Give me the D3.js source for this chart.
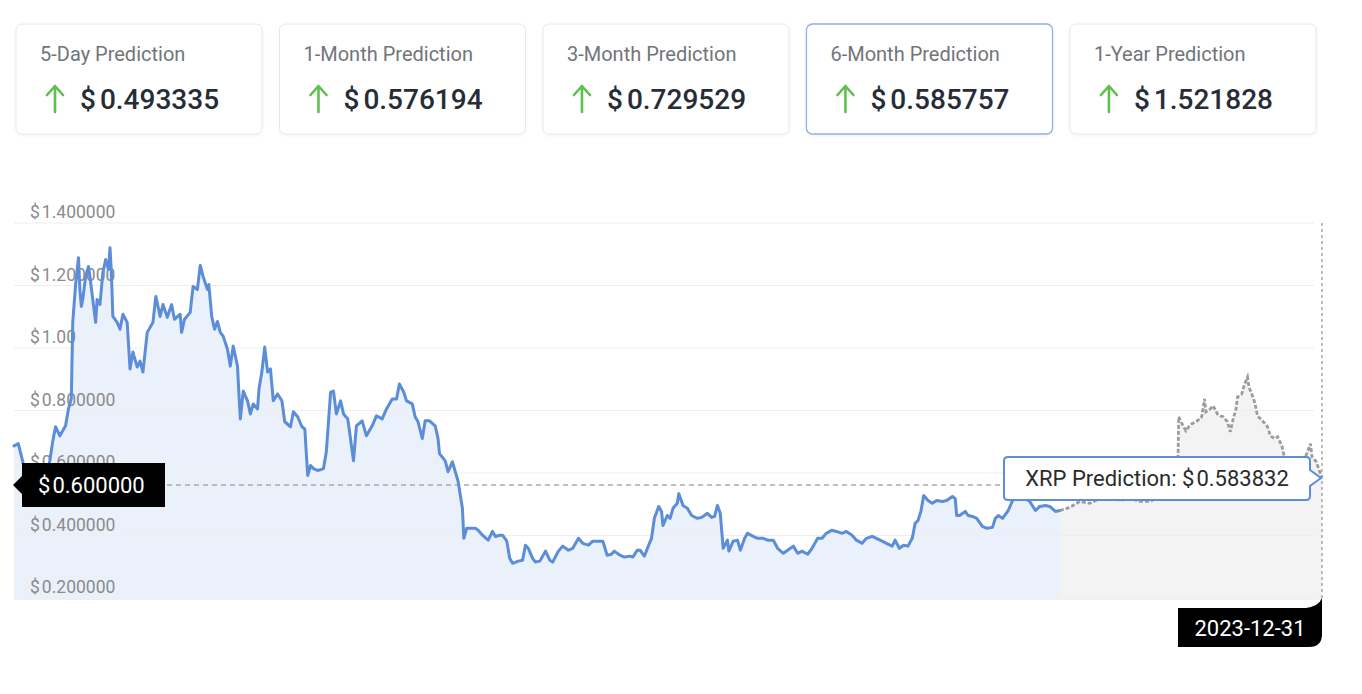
<!DOCTYPE html>
<html>
<head>
<meta charset="utf-8">
<script src="https://cdn.jsdelivr.net/npm/d3@7"></script>
<style>
  html, body { margin: 0; padding: 0; background: #ffffff; }
  svg { display: block; font-family: Roboto, "Noto Sans", Arial, sans-serif; }
</style>
</head>
<body>
<svg id="chart" width="1362" height="694"></svg>
<script>
// ---------------- data ----------------
const cardLabels = ["5-Day Prediction", "1-Month Prediction", "3-Month Prediction", "6-Month Prediction", "1-Year Prediction"];
const cardValues = ["0.493335", "0.576194", "0.729529", "0.585757", "1.521828"];
const activeCard = "6-Month Prediction";

const yTicks = [0.2, 0.4, 0.6, 0.8, 1.0, 1.2, 1.4];
const yTickLabels = ["0.200000", "0.400000", "0.600000", "0.800000", "1.00", "1.200000", "1.400000"];

const startDate = "2021-07-01";
const endDate = "2023-12-31";

// days since startDate
const histDay = [0,3,6,9,13,18,22,25,27,29,32,36,38,40,41,43,45,46,47,48,50,52,53,55,57,58,60,62,64,66,67,68,69,72,74,76,79,80,81,83,86,88,90,93,95,97,99,102,104,107,110,112,116,117,119,123,125,128,130,132,135,136,138,140,142,144,146,149,151,153,156,157,158,160,163,165,167,170,171,173,175,177,179,181,184,187,189,193,195,198,201,203,205,207,209,212,216,218,221,223,225,228,230,233,237,239,243,246,250,253,257,260,264,267,269,272,274,278,280,282,285,287,290,294,296,297,301,303,306,310,313,314,316,318,322,324,327,331,334,336,339,341,344,346,348,352,355,357,359,362,364,367,371,374,376,380,383,387,390,394,397,401,404,408,411,414,417,419,423,426,430,432,435,437,440,443,445,447,450,452,453,456,458,460,463,464,467,470,473,477,480,484,487,489,491,493,495,498,499,502,505,507,510,512,516,519,523,526,530,533,537,540,544,547,550,554,557,561,564,567,571,574,578,581,585,588,592,595,599,602,606,609,613,615,618,621,624,627,629,631,633,635,638,641,644,648,651,655,657,658,660,664,666,669,672,676,679,683,685,687,690,694,697,702,706,709,713,716,720,723,727,730];
const histPrice = [0.687,0.694,0.639,0.566,0.550,0.534,0.566,0.639,0.700,0.748,0.719,0.751,0.805,0.837,1.082,1.203,1.289,1.187,1.133,1.155,1.229,1.261,1.229,1.155,1.082,1.155,1.139,1.241,1.283,1.251,1.321,1.241,1.101,1.082,1.060,1.108,1.082,1.006,0.933,0.987,0.939,0.958,0.923,1.050,1.066,1.082,1.165,1.101,1.139,1.098,1.139,1.092,1.108,1.050,1.092,1.114,1.197,1.187,1.264,1.229,1.187,1.203,1.101,1.060,1.085,1.050,1.038,0.996,0.942,1.006,0.942,0.853,0.773,0.862,0.831,0.789,0.821,0.805,0.869,0.923,1.003,0.923,0.933,0.831,0.853,0.831,0.764,0.748,0.796,0.780,0.748,0.741,0.592,0.624,0.614,0.608,0.614,0.668,0.859,0.862,0.789,0.831,0.789,0.773,0.639,0.751,0.767,0.719,0.751,0.783,0.773,0.805,0.837,0.837,0.885,0.859,0.831,0.821,0.780,0.764,0.710,0.767,0.767,0.751,0.710,0.662,0.639,0.604,0.636,0.573,0.487,0.391,0.423,0.423,0.423,0.417,0.401,0.385,0.413,0.397,0.401,0.401,0.382,0.327,0.311,0.318,0.321,0.369,0.359,0.327,0.315,0.318,0.350,0.321,0.315,0.350,0.366,0.353,0.359,0.391,0.375,0.369,0.382,0.382,0.382,0.337,0.340,0.350,0.337,0.331,0.334,0.331,0.353,0.353,0.334,0.369,0.391,0.455,0.493,0.477,0.432,0.464,0.455,0.487,0.503,0.534,0.496,0.487,0.464,0.455,0.458,0.471,0.458,0.461,0.496,0.471,0.359,0.385,0.350,0.382,0.385,0.353,0.391,0.407,0.397,0.391,0.391,0.385,0.385,0.359,0.343,0.353,0.366,0.343,0.350,0.340,0.359,0.391,0.391,0.407,0.417,0.413,0.407,0.413,0.401,0.385,0.375,0.391,0.397,0.391,0.382,0.375,0.366,0.385,0.359,0.369,0.366,0.391,0.439,0.448,0.477,0.528,0.512,0.503,0.512,0.509,0.512,0.525,0.518,0.464,0.464,0.477,0.464,0.461,0.455,0.429,0.423,0.426,0.455,0.464,0.455,0.480,0.512,0.525,0.518,0.509,0.480,0.493,0.496,0.493,0.477,0.480];

const predDay = [730,735,738,744,751,758,765,772,779,786,793,800,807,812,813,816,818,820,822,826,829,831,832,835,837,840,842,844,847,849,851,853,854,857,859,861,862,864,866,868,872,875,877,880,882,885,887,890,894,898,901,905,906,909,913];
const predPrice = [0.480,0.487,0.493,0.509,0.503,0.518,0.525,0.512,0.518,0.509,0.509,0.525,0.534,0.525,0.780,0.751,0.735,0.748,0.757,0.767,0.780,0.837,0.796,0.805,0.815,0.789,0.783,0.780,0.764,0.732,0.773,0.805,0.843,0.853,0.885,0.907,0.875,0.853,0.827,0.783,0.764,0.748,0.719,0.710,0.716,0.687,0.646,0.630,0.620,0.630,0.646,0.694,0.652,0.636,0.583832];

const cursorPrice = 0.562;
const tooltipLabel = "XRP Prediction: ";
const tooltipValue = "0.583832";
const cursorLabel = "0.600000";
const cursorDate = "2023-12-31";

// ---------------- chart ----------------
const svg = d3.select("#chart");
const parse = d3.utcParse("%Y-%m-%d");
const t0 = parse(startDate), t1 = parse(endDate);
const toDate = d => d3.utcDay.offset(t0, d);

const plot = { left: 14, right: 1322, top: 223, bottom: 600 };
const x = d3.scaleUtc().domain([t0, t1]).range([plot.left, plot.right]);
const y = d3.scaleLinear().domain([0.2, 1.4]).range([598, 223]);

const hist = histDay.map((d, i) => ({ date: toDate(d), v: histPrice[i] }));
const pred = predDay.map((d, i) => ({ date: toDate(d), v: predPrice[i] }));

// ---- cards ----
const cardScale = d3.scaleBand().domain(cardLabels).range([16, 1316]).paddingInner(0.066);
const defs = svg.append("defs");
const f = defs.append("filter").attr("id", "shadow").attr("x", "-5%").attr("y", "-10%").attr("width", "110%").attr("height", "130%");
f.append("feDropShadow").attr("dx", 0).attr("dy", 1).attr("stdDeviation", 1.5).attr("flood-color", "#000").attr("flood-opacity", 0.06);

const cards = svg.append("g").selectAll("g").data(cardLabels).join("g")
  .attr("transform", d => `translate(${cardScale(d)},24)`);
cards.append("rect")
  .attr("width", cardScale.bandwidth()).attr("height", 110).attr("rx", 6)
  .attr("fill", "#fff")
  .attr("stroke", d => d === activeCard ? "#8fb1e3" : "#e7e8ea")
  .attr("stroke-width", d => d === activeCard ? 1.3 : 1)
  .attr("filter", "url(#shadow)");
cards.append("text").attr("x", 24).attr("y", 37)
  .attr("font-size", 20).attr("fill", "#71757a").text(d => d);
cards.append("path")
  .attr("d", "M39,88 L39,62 M31,71 L39,62 L47,71")
  .attr("fill", "none").attr("stroke", "#5fbf4f").attr("stroke-width", 2.6)
  .attr("stroke-linecap", "round").attr("stroke-linejoin", "round");
const valText = cards.append("text").attr("x", 64).attr("y", 85)
  .attr("font-size", 28).attr("font-weight", 500).attr("fill", "#262d36");
valText.append("tspan").text("$");
valText.append("tspan").attr("dx", 4).text((d, i) => cardValues[i]);

// ---- chart area ----
const g = svg.append("g");

// fills
g.append("path").datum(hist)
  .attr("fill", "#ebf1fa")
  .attr("d", d3.area().x(d => x(d.date)).y0(plot.bottom).y1(d => y(d.v)));
g.append("path").datum(pred)
  .attr("fill", "#f3f3f3")
  .attr("d", d3.area().x(d => x(d.date)).y0(plot.bottom).y1(d => y(d.v)));

// grid
g.append("g").selectAll("line").data(yTicks).join("line")
  .attr("x1", plot.left).attr("x2", 1314)
  .attr("y1", d => y(d)).attr("y2", d => y(d))
  .attr("stroke", "#eeeeee").attr("stroke-width", 1);

// y labels
const yl = g.append("g").selectAll("text").data(yTicks).join("text")
  .attr("x", 30).attr("y", d => y(d) - 5)
  .attr("font-size", 17.5).attr("fill", "#8b8b8b");
yl.append("tspan").text("$");
yl.append("tspan").attr("dx", 2).text((d, i) => yTickLabels[i]);

// right vertical dashed cursor line
g.append("line")
  .attr("x1", x(t1)).attr("x2", x(t1)).attr("y1", plot.top).attr("y2", plot.bottom)
  .attr("stroke", "#a8a8a8").attr("stroke-width", 1.5).attr("stroke-dasharray", "3,3");

// horizontal dashed cursor line
g.append("line")
  .attr("x1", plot.left).attr("x2", 1003).attr("y1", y(cursorPrice)).attr("y2", y(cursorPrice))
  .attr("stroke", "#ababab").attr("stroke-width", 1.5).attr("stroke-dasharray", "5,4");

// lines
g.append("path").datum(hist)
  .attr("fill", "none").attr("stroke", "#5b8dd8").attr("stroke-width", 3)
  .attr("stroke-linejoin", "round").attr("stroke-linecap", "round")
  .attr("d", d3.line().x(d => x(d.date)).y(d => y(d.v)));
g.append("path").datum(pred)
  .attr("fill", "none").attr("stroke", "#9c9c9c").attr("stroke-width", 2.8)
  .attr("stroke-dasharray", "4,2")
  .attr("d", d3.line().x(d => x(d.date)).y(d => y(d.v)));

// tooltip
const last = pred[pred.length - 1];
const tipX = x(last.date), tipY = y(last.v);
const tL = 1004, tR = tipX - 12, tT = tipY - 21, tB = tipY + 22, r = 4;
g.append("path")
  .attr("d", `M${tL + r},${tT} H${tR - r} Q${tR},${tT} ${tR},${tT + r} V${tipY - 8} L${tipX - 1},${tipY} L${tR},${tipY + 8} V${tB - r} Q${tR},${tB} ${tR - r},${tB} H${tL + r} Q${tL},${tB} ${tL},${tB - r} V${tT + r} Q${tL},${tT} ${tL + r},${tT} Z`)
  .attr("fill", "#fff").attr("stroke", "#5b8dd8").attr("stroke-width", 2);
const tt = g.append("text").attr("x", (tL + tR) / 2).attr("y", tipY + 8)
  .attr("text-anchor", "middle").attr("font-size", 22).attr("fill", "#2b2b2b");
tt.append("tspan").text(tooltipLabel + "$");
tt.append("tspan").attr("dx", 2).text(tooltipValue);

// y cursor label (black)
const cy = y(cursorPrice);
g.append("path")
  .attr("d", `M22,${cy - 22} H165 V${cy + 22} H22 V${cy + 9} L13,${cy} L22,${cy - 9} Z`)
  .attr("fill", "#000");
const cl = g.append("text").attr("x", 38).attr("y", cy + 8)
  .attr("font-size", 22).attr("fill", "#fff");
cl.append("tspan").text("$");
cl.append("tspan").attr("dx", 2).text(cursorLabel);

// x cursor label (black)
const cx = x(t1);
g.append("path")
  .attr("d", `M1178,608 H${cx - 16} Q${cx - 3},606 ${cx},598 V634 Q${cx},647 ${cx - 13},647 H1178 Z`)
  .attr("fill", "#000");
g.append("text").attr("x", 1250).attr("y", 636).attr("text-anchor", "middle")
  .attr("font-size", 22).attr("fill", "#fff").text(cursorDate);
</script>
</body>
</html>
